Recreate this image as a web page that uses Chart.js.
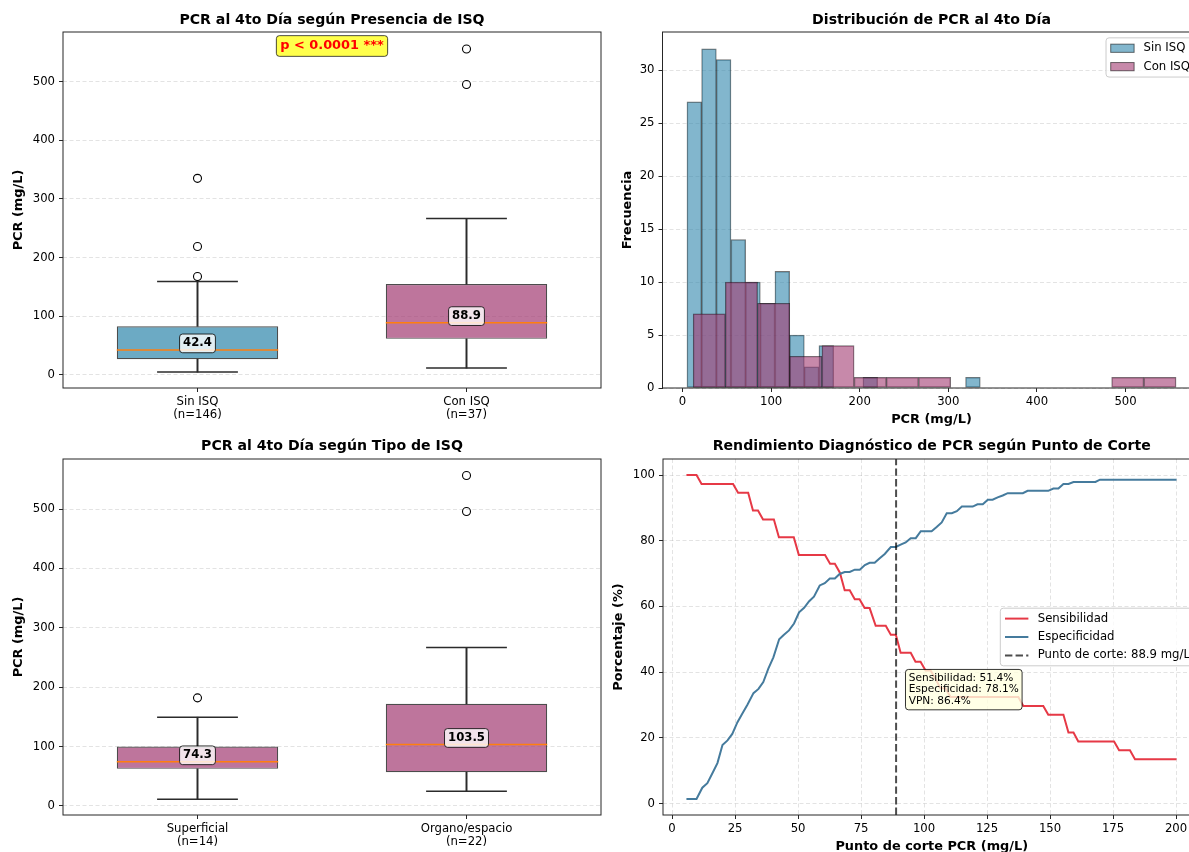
<!DOCTYPE html>
<html>
<head>
<meta charset="utf-8">
<script src="https://cdn.jsdelivr.net/npm/chart.js@4.4.1/dist/chart.umd.min.js"></script>
<style>
  html, body { margin: 0; padding: 0; background: #fff; overflow: hidden; }
  body { position: relative; width: 1189px; height: 852px; }
  canvas { position: absolute; }
</style>
</head>
<body>
<canvas id="box-grupo" width="630" height="430" style="left:0;top:0"></canvas>
<canvas id="hist" width="640" height="430" style="left:600px;top:0"></canvas>
<canvas id="box-tipo" width="630" height="430" style="left:0;top:426px"></canvas>
<canvas id="corte" width="640" height="430" style="left:600px;top:426px"></canvas>
<script>
// PCR al 4to día: boxplots, histograma y curva de punto de corte

// --- boxplot por presencia de ISQ ---
const GRUPOS = ["Sin ISQ", "Con ISQ"];
const GRUPOS_N = [146, 37];
const GRUPOS_MIN = [4.5, 11.3];
const GRUPOS_Q1 = [26.5, 61.2];
const GRUPOS_MED = [42.4, 88.9];
const GRUPOS_Q3 = [82.7, 154.8];
const GRUPOS_MAX = [159.2, 266.3];
const GRUPOS_OUT = [[167.7, 218.7, 335], [495, 555.5]];
const GRUPOS_Y = [-22.6, 584.6];
const P_VALOR = "p < 0.0001 ***";

// --- boxplot por tipo de ISQ ---
const TIPOS = ["Superficial", "Organo/espacio"];
const TIPOS_N = [14, 22];
const TIPOS_MIN = [11.1, 24.6];
const TIPOS_Q1 = [62.4, 56.7];
const TIPOS_MED = [74.3, 103.5];
const TIPOS_Q3 = [100, 172];
const TIPOS_MAX = [149.4, 267];
const TIPOS_OUT = [[182], [495.8, 556.5]];
const TIPOS_Y = [-15.3, 584.3];

const PCR_TICKS = [0, 100, 200, 300, 400, 500];

// --- histograma (bordes de bins y frecuencias) ---
const SIN_BORDES = [5, 21.6, 38.1, 54.7, 71.2, 87.8, 104.3, 120.9, 137.4, 154, 170.5,
  187.1, 203.6, 220.2, 236.7, 253.3, 269.8, 286.4, 302.9, 319.5, 336];
const SIN_FREC = [27, 32, 31, 14, 10, 8, 11, 5, 2, 4, 0, 0, 1, 0, 0, 0, 0, 0, 0, 1];
const CON_BORDES = [12, 48.3, 84.7, 121, 157.3, 193.7, 230, 266.3, 302.7, 339, 375.3,
  411.7, 448, 484.3, 520.7, 557];
const CON_FREC = [7, 10, 8, 3, 4, 1, 1, 1, 0, 0, 0, 0, 0, 1, 1];
const HIST_X = [-22.6, 584.6];
const HIST_Y = [0, 33.6];
const FREC_TICKS = [0, 5, 10, 15, 20, 25, 30];

// --- sensibilidad / especificidad según punto de corte ---
const SENSIBILIDAD = [
  [5.7, 100], [9.7, 100], [11.7, 97.3], [24.2, 97.3], [26.2, 94.6], [30.2, 94.6],
  [32.1, 89.2], [34.1, 89.2], [36.1, 86.5], [40.4, 86.5], [42.4, 81.1], [48.3, 81.1],
  [50.3, 75.7], [60.7, 75.7], [62.7, 73.0], [64.6, 73.0], [66.6, 70.3], [68.5, 64.9],
  [70.5, 64.9], [72.5, 62.2], [74.4, 62.2], [76.4, 59.5], [78.4, 59.5], [80.8, 54.1],
  [84.8, 54.1], [86.8, 51.4], [88.8, 51.4], [90.7, 45.9], [94.7, 45.9], [96.6, 43.2],
  [98.6, 43.2], [100.6, 40.5], [102.6, 40.5], [104.6, 37.8], [106.5, 35.1], [108.5, 35.1],
  [110.5, 32.4], [137.4, 32.4], [139.4, 29.7], [147.3, 29.7], [149.3, 27.0], [155.3, 27.0],
  [157.3, 21.6], [159.3, 21.6], [161.2, 18.9], [175.4, 18.9], [177.4, 16.2], [181.7, 16.2],
  [183.7, 13.5], [200.2, 13.5]
];
const ESPECIFICIDAD = [
  [5.7, 1.4], [9.7, 1.4], [12, 4.8], [14, 6.2], [16, 9.2], [18, 12.3], [20, 17.8],
  [22, 19.2], [23.9, 21.2], [25.9, 24.7], [27.9, 27.4], [29.9, 30.1], [32.3, 33.6],
  [34.3, 34.9], [36.2, 37], [38.2, 41.1], [40.2, 44.5], [42.5, 50], [44.4, 51.4],
  [46.4, 52.7], [48.4, 54.8], [50.4, 58.2], [52.4, 59.6], [54.4, 61.6], [56.3, 63],
  [58.6, 66.4], [60.6, 67.1], [62.6, 68.5], [64.6, 68.5], [66.5, 69.9], [68.5, 70.5],
  [70.5, 70.5], [72.5, 71.2], [74.5, 71.2], [76.5, 72.6], [78.4, 73.3], [80.4, 73.3],
  [82.4, 74.7], [84.4, 76], [86.8, 78.1], [88.8, 78.1], [90.7, 78.8], [92.7, 79.5],
  [94.7, 80.8], [96.7, 80.8], [98.7, 82.9], [103, 82.9], [105, 84.2], [107, 85.6],
  [109, 88.4], [111, 88.4], [113, 89.0], [115, 90.4], [119.3, 90.4], [121.2, 91.1],
  [123.3, 91.1], [125.3, 92.5], [127.2, 92.5], [129.2, 93.2], [131.2, 93.8], [133.2, 94.5],
  [139.2, 94.5], [141.1, 95.2], [149.3, 95.2], [151.3, 95.9], [153.3, 95.9], [155.3, 97.3],
  [157.3, 97.3], [159.3, 97.9], [168, 97.9], [169.8, 98.6], [200.2, 98.6]
];
const CORTE = 88.9;
const CORTE_SENS = 51.4;
const CORTE_ESP = 78.1;
const CORTE_VPN = 86.4;
const CORTE_X = [-3.6, 209.7];
const CORTE_Y = [-3.5, 104.9];
const CORTE_X_TICKS = [0, 25, 50, 75, 100, 125, 150, 175, 200];
const PCT_TICKS = [0, 20, 40, 60, 80, 100];

// ---------------------------------------------------------------

const FONT = "'DejaVu Sans', sans-serif";
const FS_TICK = 11.7;
const FS_LABEL = 12.9;
const FS_TITLE = 14.1;
const SPINE = "#262626";
const GRID_COLOR = "rgba(176,176,176,0.35)";
const WHISKER = "#2b2b2b";
const AZUL = "#2E86AB";
const MAGENTA = "#A23B72";
const ROJO = "#E63946";
const AZUL_ESP = "#457B9D";

Chart.defaults.font.family = FONT;
Chart.defaults.font.size = FS_TICK;
Chart.defaults.color = "#000";
Chart.defaults.animation = false;
Chart.defaults.events = [];
Chart.defaults.plugins.legend.display = false;
Chart.defaults.plugins.tooltip.enabled = false;

function rgba(hex, a) {
  const n = parseInt(hex.slice(1), 16);
  return `rgba(${n >> 16},${(n >> 8) & 255},${n & 255},${a})`;
}

function cajaTexto(ctx, lines, x, y, o) {
  ctx.save();
  ctx.font = `${o.weight || "normal"} ${o.size}px ${FONT}`;
  const w = Math.max(...lines.map((t) => ctx.measureText(t).width));
  const lh = o.lineGap || o.size;
  const h = o.size + (lines.length - 1) * lh;
  const left = o.align === "left" ? x : x - w / 2;
  const top = o.vAlign === "bottom" ? y - h : y - h / 2;
  ctx.beginPath();
  ctx.roundRect(left - o.pad, top - o.pad, w + 2 * o.pad, h + 2 * o.pad, 3);
  ctx.fillStyle = o.fill;
  ctx.fill();
  ctx.lineWidth = 1;
  ctx.strokeStyle = o.stroke;
  ctx.stroke();
  ctx.fillStyle = o.color;
  ctx.textAlign = "left";
  ctx.textBaseline = "middle";
  lines.forEach((t, i) => ctx.fillText(t, left, top + o.size / 2 + i * lh));
  ctx.restore();
}

// marco de los cuatro lados + título del panel
const marco = {
  id: "marco",
  afterDatasetsDraw(chart) {
    const { ctx, chartArea: a } = chart;
    ctx.save();
    ctx.strokeStyle = SPINE;
    ctx.lineWidth = 1;
    ctx.strokeRect(a.left, a.top, a.right - a.left, a.bottom - a.top);
    ctx.restore();
  },
  afterDraw(chart, _args, o) {
    if (!o.texto) return;
    const { ctx, chartArea: a } = chart;
    ctx.save();
    ctx.font = `bold ${FS_TITLE}px ${FONT}`;
    ctx.fillStyle = "#000";
    ctx.textAlign = "center";
    ctx.textBaseline = "middle";
    ctx.fillText(o.texto, (a.left + a.right) / 2, o.y);
    ctx.restore();
  }
};

// etiqueta con la mediana encima de cada caja, el p-valor y el recuadro del corte
const anotaciones = {
  id: "anotaciones",
  afterDraw(chart, _args, o) {
    const { ctx, chartArea: a, scales } = chart;
    (o.medianas || []).forEach((v, i) => {
      cajaTexto(ctx, [v.toFixed(1)], scales.x.getPixelForValue(i), scales.y.getPixelForValue(v) - 6.5, {
        size: FS_TICK, weight: "bold", color: "#000", pad: 3.5,
        fill: "rgba(255,255,255,0.8)", stroke: "rgba(0,0,0,0.8)"
      });
    });
    if (o.pValor) {
      cajaTexto(ctx, [o.pValor], (a.left + a.right) / 2, a.top + 14, {
        size: FS_LABEL, weight: "bold", color: "#ff0000", pad: 3.9,
        fill: "rgba(255,255,0,0.7)", stroke: "rgba(0,0,0,0.7)"
      });
    }
    if (o.texto) {
      cajaTexto(ctx, o.texto, scales.x.getPixelForValue(o.x), scales.y.getPixelForValue(o.y), {
        size: 10.6, lineGap: 11.7, align: "left", vAlign: "bottom", color: "#000", pad: 3.2,
        fill: "rgba(255,255,224,0.8)", stroke: "rgba(0,0,0,0.8)"
      });
    }
  }
};

const leyenda = {
  id: "leyenda",
  afterDraw(chart, _args, o) {
    if (!o.loc) return;
    const { ctx, chartArea: a } = chart;
    const items = chart.data.datasets.filter((ds) => ds.label);
    const fs = FS_TICK;
    ctx.save();
    ctx.font = `${fs}px ${FONT}`;
    const tw = Math.max(...items.map((ds) => ctx.measureText(ds.label).width));
    const pad = 0.4 * fs, hl = 2 * fs, gap = 0.8 * fs, row = 18.4;
    const w = pad + hl + gap + tw + pad;
    const h = 20.8 + (items.length - 1) * row;
    const left = a.right - 0.5 * fs - w;
    const top = o.loc === "upper right" ? a.top + 0.5 * fs : (a.top + a.bottom) / 2 - h / 2;
    ctx.beginPath();
    ctx.roundRect(left, top, w, h, 3);
    ctx.fillStyle = "rgba(255,255,255,0.8)";
    ctx.fill();
    ctx.strokeStyle = "#cccccc";
    ctx.lineWidth = 1;
    ctx.stroke();
    items.forEach((ds, i) => {
      const cy = top + 10.4 + i * row;
      const hx = left + pad;
      if (o.tipo === "barra") {
        ctx.fillStyle = ds.backgroundColor;
        ctx.fillRect(hx, cy - 4.1, hl, 8.2);
        ctx.strokeStyle = ds.borderColor;
        ctx.strokeRect(hx, cy - 4.1, hl, 8.2);
      } else {
        ctx.strokeStyle = ds.borderColor;
        ctx.lineWidth = ds.borderWidth;
        ctx.setLineDash(ds.borderDash || []);
        ctx.beginPath();
        ctx.moveTo(hx, cy);
        ctx.lineTo(hx + hl, cy);
        ctx.stroke();
        ctx.setLineDash([]);
      }
      ctx.fillStyle = "#000";
      ctx.textAlign = "left";
      ctx.textBaseline = "middle";
      ctx.fillText(ds.label, hx + hl + gap, cy);
    });
    ctx.restore();
  }
};

function ejeLineal({ lim, valores, titulo, tituloPad, rejilla, tam, horizontal }) {
  return {
    type: "linear",
    min: lim[0],
    max: lim[1],
    offset: false,
    border: { display: false, dash: [4, 2.5] },
    grid: {
      display: true, drawOnChartArea: rejilla, color: GRID_COLOR, lineWidth: 1, offset: false,
      drawTicks: true, tickLength: 4, tickColor: SPINE, tickWidth: 1, tickBorderDash: []
    },
    ticks: {
      padding: horizontal ? 3.5 : 4,
      font: { size: FS_TICK, lineHeight: 1.1 }, color: "#000", maxRotation: 0, autoSkip: false
    },
    afterBuildTicks(s) {
      s.ticks = valores.map((value) => ({ value }));
    },
    title: {
      display: !!titulo, text: titulo, color: "#000",
      font: { size: FS_LABEL, weight: "bold" },
      padding: horizontal ? { top: 0, bottom: tituloPad } : { top: tituloPad, bottom: 0 }
    },
    afterFit(s) {
      if (horizontal) s.height = tam; else s.width = tam;
    }
  };
}

function boxplot(id, d) {
  const k = d.labels;
  return new Chart(document.getElementById(id), {
    type: "bar",
    data: {
      labels: k,
      datasets: [
        { data: k.map((_, i) => [d.min[i], d.q1[i]]), backgroundColor: WHISKER,
          barThickness: 1.3, grouped: false, order: 6 },
        { data: k.map((_, i) => [d.q3[i], d.max[i]]), backgroundColor: WHISKER,
          barThickness: 1.3, grouped: false, order: 6 },
        { data: k.map((_, i) => [d.q1[i], d.q3[i]]), backgroundColor: d.colores.map((c) => rgba(c, 0.7)),
          borderColor: "rgba(0,0,0,0.7)", borderWidth: 1.2, borderSkipped: false,
          barPercentage: 0.6, categoryPercentage: 1, grouped: false, order: 5 },
        { type: "line", data: d.min, showLine: false, pointStyle: "line", pointRadius: 40.4,
          pointBorderColor: WHISKER, pointBorderWidth: 1.5, order: 4 },
        { type: "line", data: d.max, showLine: false, pointStyle: "line", pointRadius: 40.4,
          pointBorderColor: WHISKER, pointBorderWidth: 1.5, order: 4 },
        { type: "line", data: d.med, showLine: false, pointStyle: "line", pointRadius: 80.7,
          pointBorderColor: "#ff7f0e", pointBorderWidth: 1.5, order: 3 },
        { type: "line", data: d.out.flatMap((vals, i) => vals.map((v) => ({ x: k[i], y: v }))),
          showLine: false, pointStyle: "circle", pointRadius: 4, pointBorderColor: "#000",
          pointBackgroundColor: "rgba(0,0,0,0)", pointBorderWidth: 1.1, order: 2 }
      ]
    },
    options: {
      responsive: false,
      layout: { autoPadding: false, padding: { top: d.top, right: 29, left: 0, bottom: 0 } },
      scales: {
        x: {
          type: "category",
          offset: true,
          border: { display: false },
          grid: { display: true, drawOnChartArea: false, drawTicks: true, tickLength: 4,
                  tickColor: SPINE, tickWidth: 1, offset: false },
          ticks: {
            padding: 3.5, font: { size: FS_TICK, lineHeight: 1.1 }, color: "#000",
            maxRotation: 0, autoSkip: false,
            callback: (v, i) => [k[i], `(n=${d.n[i]})`]
          },
          afterFit(s) { s.height = 430 - d.bottom; }
        },
        y: ejeLineal({ lim: d.ylim, valores: PCR_TICKS, titulo: "PCR (mg/L)", tituloPad: 11.3, rejilla: true, tam: 63 })
      },
      plugins: {
        marco: { texto: d.titulo, y: 20 },
        anotaciones: { medianas: d.med, pValor: d.pValor }
      }
    },
    plugins: [marco, anotaciones]
  });
}

boxplot("box-grupo", {
  labels: GRUPOS, n: GRUPOS_N, min: GRUPOS_MIN, q1: GRUPOS_Q1, med: GRUPOS_MED,
  q3: GRUPOS_Q3, max: GRUPOS_MAX, out: GRUPOS_OUT, ylim: GRUPOS_Y,
  colores: [AZUL, MAGENTA], titulo: "PCR al 4to Día según Presencia de ISQ",
  pValor: P_VALOR, top: 32, bottom: 388
});

boxplot("box-tipo", {
  labels: TIPOS, n: TIPOS_N, min: TIPOS_MIN, q1: TIPOS_Q1, med: TIPOS_MED,
  q3: TIPOS_Q3, max: TIPOS_MAX, out: TIPOS_OUT, ylim: TIPOS_Y,
  colores: [MAGENTA, MAGENTA], titulo: "PCR al 4to Día según Tipo de ISQ",
  top: 33, bottom: 389
});

// barras centradas en cada bin
function bins(bordes, frec) {
  return frec.map((f, i) => ({ x: (bordes[i] + bordes[i + 1]) / 2, y: f }));
}

new Chart(document.getElementById("hist"), {
  type: "bar",
  data: {
    datasets: [
      { label: "Sin ISQ", xAxisID: "x", data: bins(SIN_BORDES, SIN_FREC),
        backgroundColor: rgba(AZUL, 0.6), borderColor: "rgba(0,0,0,0.55)", borderWidth: 0.8,
        borderSkipped: false, barPercentage: 1, categoryPercentage: 1, grouped: false, order: 2 },
      { label: "Con ISQ", xAxisID: "x2", data: bins(CON_BORDES, CON_FREC),
        backgroundColor: rgba(MAGENTA, 0.6), borderColor: "rgba(0,0,0,0.55)", borderWidth: 0.8,
        borderSkipped: false, barPercentage: 1, categoryPercentage: 1, grouped: false, order: 1 }
    ]
  },
  options: {
    responsive: false,
    layout: { autoPadding: false, padding: { top: 32, right: 39.5, left: 0, bottom: 0 } },
    scales: {
      x: ejeLineal({ lim: HIST_X, valores: PCR_TICKS, titulo: "PCR (mg/L)", tituloPad: 2.3, rejilla: false, tam: 42, horizontal: true }),
      x2: { type: "linear", axis: "x", display: false, min: HIST_X[0], max: HIST_X[1], offset: false,
            afterBuildTicks(s) { s.ticks = PCR_TICKS.map((value) => ({ value })); } },
      y: ejeLineal({ lim: HIST_Y, valores: FREC_TICKS, titulo: "Frecuencia", tituloPad: 20.3, rejilla: true, tam: 62.5 })
    },
    plugins: {
      marco: { texto: "Distribución de PCR al 4to Día", y: 20 },
      leyenda: { loc: "upper right", tipo: "barra" }
    }
  },
  plugins: [marco, leyenda]
});

const puntos = (arr) => arr.map(([x, y]) => ({ x, y }));

new Chart(document.getElementById("corte"), {
  type: "line",
  data: {
    datasets: [
      { label: "Sensibilidad", data: puntos(SENSIBILIDAD), borderColor: ROJO, borderWidth: 2,
        pointRadius: 0, tension: 0, order: 3 },
      { label: "Especificidad", data: puntos(ESPECIFICIDAD), borderColor: AZUL_ESP, borderWidth: 2,
        pointRadius: 0, tension: 0, order: 2 },
      { label: `Punto de corte: ${CORTE} mg/L`,
        data: [{ x: CORTE, y: CORTE_Y[0] }, { x: CORTE, y: CORTE_Y[1] }],
        borderColor: "rgba(0,0,0,0.7)", borderWidth: 2, borderDash: [7.4, 3.2],
        pointRadius: 0, order: 1 }
    ]
  },
  options: {
    responsive: false,
    layout: { autoPadding: false, padding: { top: 33, right: 39.5, left: 0, bottom: 0 } },
    scales: {
      x: ejeLineal({ lim: CORTE_X, valores: CORTE_X_TICKS, titulo: "Punto de corte PCR (mg/L)", tituloPad: 2, rejilla: true, tam: 41, horizontal: true }),
      y: ejeLineal({ lim: CORTE_Y, valores: PCT_TICKS, titulo: "Porcentaje (%)", tituloPad: 11.3, rejilla: true, tam: 63 })
    },
    plugins: {
      marco: { texto: "Rendimiento Diagnóstico de PCR según Punto de Corte", y: 20 },
      anotaciones: {
        x: CORTE + 5, y: 29.5,
        texto: [`Sensibilidad: ${CORTE_SENS}%`, `Especificidad: ${CORTE_ESP}%`, `VPN: ${CORTE_VPN}%`]
      },
      leyenda: { loc: "center right", tipo: "linea" }
    }
  },
  plugins: [marco, anotaciones, leyenda]
});
</script>
</body>
</html>
